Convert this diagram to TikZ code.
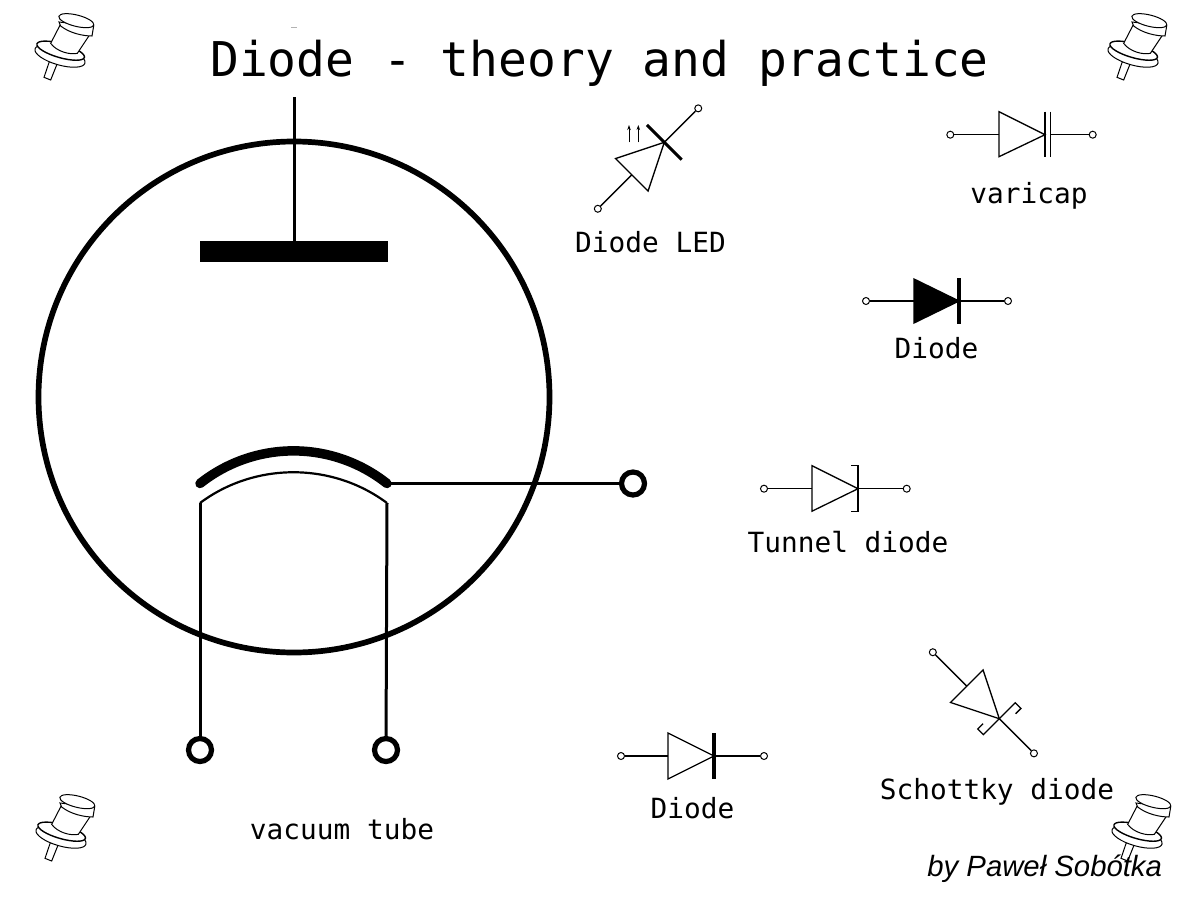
\documentclass[tikz,border=0pt]{standalone}
\usepackage{fontspec}
\setmainfont{Liberation Sans}
\setmonofont{DejaVu Sans Mono}
\usetikzlibrary{arrows.meta}

\begin{document}
\begin{tikzpicture}[
    x=1pt, y=-1pt,
    ttl/.style={font=\ttfamily\fontsize{47.9}{48}\selectfont, anchor=base},
    lbl/.style={font=\ttfamily\fontsize{27.8}{28}\selectfont, anchor=base},
    sign/.style={font=\itshape\fontsize{29.3}{28}\selectfont, anchor=base east},
    tube/.style={draw, line width=5.7pt},
    wire/.style={line width=3pt},
    post/.style={draw, circle, line width=5.2pt, minimum size=23pt, inner sep=0pt},
    term/.style={draw, circle, line width=1pt, minimum size=7pt, inner sep=0pt},
    lead/.style={line width=1.3pt},
    sym/.style={line width=1.3pt, line join=miter},
    photon/.style={-{Stealth[length=5pt,width=3.5pt]}, line width=1pt},
    stud/.pic={
      \begin{scope}[scale=1/3, line width=1pt, fill=white]
        \draw[fill=white] (72,232) -- (88,185) -- (112,190) -- (92,240) -- cycle;
        \draw[fill=white] (120,168) ellipse [x radius=78, y radius=27, rotate=-16];
        \draw[fill=white, line width=1.4pt] (122,152) ellipse [x radius=74, y radius=21, rotate=-16];
        \draw[fill=white] (122,72) -- (92,130) .. controls (110,155) and (150,165) .. (172,160)
          -- (212,100) -- cycle;
        \draw[fill=white] (117,66) -- (122,78) .. controls (150,100) and (190,108) .. (216,108)
          -- (221,78) -- cycle;
        \draw[fill=white] (169,62) ellipse [x radius=54, y radius=17, rotate=-14];
      \end{scope}
    },
  ]
  \useasboundingbox (0,0) rectangle (1200,900);

  % corner studs, drawn first so the texts stay on top
  \pic at (20,0) {stud};
  \pic at (1093,0) {stud};
  \pic at (21,781) {stud};
  \pic at (1097,781) {stud};

  \node[ttl] (title) at (599.5,76) {Diode - theory and practice};
  \coordinate (specka) at (291,27.5);
  \coordinate (speckb) at (297,27.5);
  \draw[gray!60, line width=0.7pt] (specka) -- (speckb);

  % ============================== Vacuum tube =============================
  \node[tube, circle, minimum size=511pt, inner sep=0pt] (bulb) at (294,397) {};
  \node[draw, fill=black, minimum width=187pt, minimum height=20pt, inner sep=0pt] (plate) at (293.5,251) {};
  \coordinate (platetop) at (294,97);
  \draw[wire] (platetop) -- (plate.north -| platetop);

  \coordinate (catl) at (200,483.5);
  \coordinate (catr) at (387,483.5);
  \coordinate (heatl) at (200,503);
  \coordinate (heatr) at (387,503);
  \draw[line width=9.5pt, line cap=round] (catl) .. controls (255,440) and (332,440) .. (catr);
  \draw[line width=2.2pt] (heatl) .. controls (255,462) and (332,462) .. (heatr);

  \node[post] (pcat) at (633,483.5) {};
  \node[post] (pl) at (200,750) {};
  \node[post] (pr) at (386,750) {};
  \draw[wire] (catr) -- (pcat);
  \draw[wire] (heatl) -- (pl);
  \draw[wire] (heatr) -- (pr);

  \node[lbl] (tubelbl) at (342,839) {vacuum tube};

  % ============================== Diode LED ===============================
  \begin{scope}[shift={(664.3,142.3)}, rotate=45]
    \node[term] (lA) at (-94,0) {};
    \node[term] (lK) at (48,0) {};
    \coordinate (lB) at (-46,0);
    \coordinate (lT) at (0,0);
    \draw[sym] (-46,-23) -- (-46,23) -- (0,0) -- cycle;
    \draw[line width=3pt] (0,-24.5) -- (0,24.5);
    \draw[lead] (lA) -- (lB);
    \draw[lead] (lT) -- (lK);
  \end{scope}
  \foreach \ax in {629,638.3} {
    \draw[photon] (\ax,142.3) -- (\ax,125);
  }
  \node[lbl] (ledlbl) at (650.5,252) {Diode LED};

  % ============================== Varicap =================================
  \begin{scope}[shift={(1045,134.7)}]
    \node[term] (vA) at (-94.7,0) {};
    \node[term] (vK) at (47.7,0) {};
    \coordinate (vB) at (-46,0);
    \coordinate (vT) at (0,0);
    \coordinate (vP) at (5.3,0);
    \draw[sym] (-46,-23) -- (-46,22) -- (0,0) -- cycle;
    \draw[sym] (0,-23) -- (0,22);
    \draw[sym] (5.3,-23) -- (5.3,22);
    \draw[lead] (vA) -- (vB);
    \draw[lead] (vP) -- (vK);
  \end{scope}
  \node[lbl] (varlbl) at (1029,203) {varicap};

  % ============================== Diode (filled) ==========================
  \begin{scope}[shift={(959,301)}]
    \node[term] (fA) at (-93,0) {};
    \node[term] (fK) at (49,0) {};
    \coordinate (fB) at (-45,0);
    \coordinate (fT) at (0,0);
    \draw[sym, fill=black] (-45,-22) -- (-45,22) -- (0,0) -- cycle;
    \draw[line width=4pt] (0,-23) -- (0,23);
    \draw[lead] (fA) -- (fB);
    \draw[lead] (fT) -- (fK);
  \end{scope}
  \node[lbl] (fillbl) at (936.5,358) {Diode};

  % ============================== Tunnel diode ============================
  \begin{scope}[shift={(858,488.7)}]
    \node[term] (tA) at (-94,0) {};
    \node[term] (tK) at (48.7,0) {};
    \coordinate (tB) at (-46,0);
    \coordinate (tT) at (0,0);
    \draw[sym] (-46,-23) -- (-46,22.5) -- (0,0) -- cycle;
    \draw[sym] (-7,-23) -- (0,-23) -- (0,22.5) -- (-7,22.5);
    \draw[lead] (tA) -- (tB);
    \draw[lead] (tT) -- (tK);
  \end{scope}
  \node[lbl] (tunlbl) at (848,552) {Tunnel diode};

  % ============================== Diode ===================================
  \begin{scope}[shift={(714,756)}]
    \node[term] (dA) at (-93,0) {};
    \node[term] (dK) at (50,0) {};
    \coordinate (dB) at (-46,0);
    \coordinate (dT) at (0,0);
    \draw[sym] (-46,-23) -- (-46,23) -- (0,0) -- cycle;
    \draw[line width=3.2pt] (0,-23) -- (0,23);
    \draw[lead] (dA) -- (dB);
    \draw[lead] (dT) -- (dK);
  \end{scope}
  \node[lbl] (diolbl) at (692.5,818) {Diode};

  % ============================== Schottky diode ==========================
  \begin{scope}[shift={(999.3,718.7)}, rotate=-45]
    \node[term] (sA) at (-94,0) {};
    \node[term] (sK) at (49,0) {};
    \coordinate (sB) at (-46,0);
    \coordinate (sT) at (0,0);
    \draw[sym] (-46,-23) -- (-46,23) -- (0,0) -- cycle;
    \draw[sym] (8,-15) -- (8,-22.5) -- (0,-22.5) -- (0,22.5) -- (-8,22.5) -- (-8,15);
    \draw[lead] (sA) -- (sB);
    \draw[lead] (sT) -- (sK);
  \end{scope}
  \node[lbl] (schlbl) at (997,799) {Schottky diode};

  \node[sign] (author) at (1165.5,876) {by Paweł Sobótka};
\end{tikzpicture}
\end{document}
